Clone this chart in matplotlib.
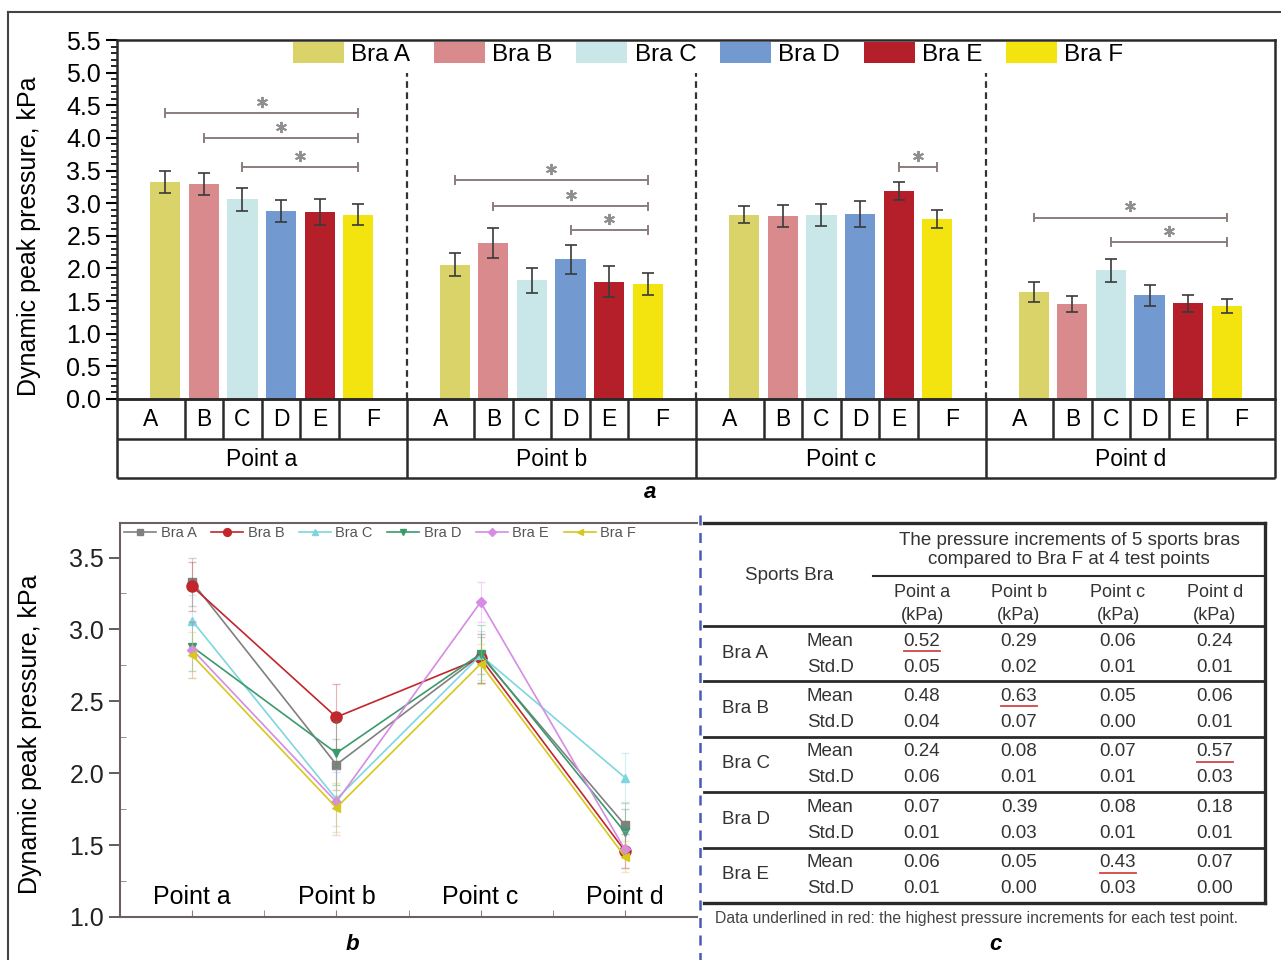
import numpy as np
import matplotlib
matplotlib.use('Agg')
import matplotlib.pyplot as plt

plt.rcParams['font.family'] = ['Liberation Sans', 'DejaVu Sans']

# ---- data ----
points = ['Point a', 'Point b', 'Point c', 'Point d']
bras = ['Bra A', 'Bra B', 'Bra C', 'Bra D', 'Bra E', 'Bra F']
letters = ['A', 'B', 'C', 'D', 'E', 'F']

# dynamic peak pressure (kPa) at points a..d
bra_a_mean = [3.33, 2.06, 2.82, 1.64]
bra_b_mean = [3.30, 2.39, 2.80, 1.46]
bra_c_mean = [3.06, 1.82, 2.82, 1.97]
bra_d_mean = [2.88, 2.14, 2.83, 1.59]
bra_e_mean = [2.86, 1.80, 3.19, 1.47]
bra_f_mean = [2.82, 1.76, 2.76, 1.42]

bra_a_sd = [0.17, 0.18, 0.13, 0.15]
bra_b_sd = [0.17, 0.23, 0.17, 0.12]
bra_c_sd = [0.18, 0.19, 0.17, 0.17]
bra_d_sd = [0.17, 0.22, 0.20, 0.16]
bra_e_sd = [0.20, 0.23, 0.14, 0.13]
bra_f_sd = [0.16, 0.17, 0.14, 0.11]

# significance brackets: (point, from bra, to bra, height in kPa)
sig_pairs = [(0, 0, 5, 4.38), (0, 1, 5, 4.00), (0, 2, 5, 3.56),
             (1, 0, 5, 3.36), (1, 1, 5, 2.95), (1, 3, 5, 2.59),
             (2, 4, 5, 3.56),
             (3, 0, 5, 2.78), (3, 2, 5, 2.40)]

# table c: increments compared to Bra F
inc_bras = ['Bra A', 'Bra B', 'Bra C', 'Bra D', 'Bra E']
inc_mean_a = [0.52, 0.29, 0.06, 0.24]
inc_mean_b = [0.48, 0.63, 0.05, 0.06]
inc_mean_c = [0.24, 0.08, 0.07, 0.57]
inc_mean_d = [0.07, 0.39, 0.08, 0.18]
inc_mean_e = [0.06, 0.05, 0.43, 0.07]
inc_sd_a = [0.05, 0.02, 0.01, 0.01]
inc_sd_b = [0.04, 0.07, 0.00, 0.01]
inc_sd_c = [0.06, 0.01, 0.01, 0.03]
inc_sd_d = [0.01, 0.03, 0.01, 0.01]
inc_sd_e = [0.01, 0.00, 0.03, 0.00]

means = np.array([bra_a_mean, bra_b_mean, bra_c_mean, bra_d_mean, bra_e_mean, bra_f_mean])
sds = np.array([bra_a_sd, bra_b_sd, bra_c_sd, bra_d_sd, bra_e_sd, bra_f_sd])
inc_means = np.array([inc_mean_a, inc_mean_b, inc_mean_c, inc_mean_d, inc_mean_e])
inc_sds = np.array([inc_sd_a, inc_sd_b, inc_sd_c, inc_sd_d, inc_sd_e])

bar_colors = ['#d9d36a', '#d98a8c', '#c9e7e9', '#7299d0', '#b51f2a', '#f3e30e']
line_colors = ['#808080', '#c0262c', '#7fd6de', '#3b9a6b', '#d58ce2', '#d6c81c']
line_markers = ['s', 'o', '^', 'v', 'D', '<']

W, H = 1281, 960


def box(l, t, r, b):
    return [l / W, 1 - b / H, (r - l) / W, (b - t) / H]


fig = plt.figure(figsize=(12.81, 9.6), dpi=100)

# ---- panel a: bars ----
group_w = 7.5
ax = fig.add_axes(box(117, 40, 1275, 399))
for i in range(6):
    xs = np.arange(4) * group_w + 1.25 + i
    ax.bar(xs, means[i], 0.78, yerr=sds[i], color=bar_colors[i], label=bras[i],
           capsize=4.5, error_kw=dict(ecolor='#3a3a3a', elinewidth=1.2, capthick=1.2))

ax.set_xlim(0, 4 * group_w)
ax.set_ylim(0, 5.5)
ax.set_yticks(np.arange(0, 5.51, 0.5))
ax.set_yticks(np.arange(0, 5.51, 0.1), minor=True)
ax.set_xticks([])
ax.tick_params(axis='y', which='major', length=8, width=1.5, labelsize=18, direction='out')
ax.tick_params(axis='y', which='minor', length=4, width=1.2, direction='out')
for s in ax.spines.values():
    s.set_linewidth(1.8)
    s.set_color('#2a2a2a')
ax.set_ylabel('Dynamic peak pressure, kPa', fontsize=18)
ax.yaxis.set_label_coords(-0.066, 0.454)

ax.vlines(np.arange(1, 4) * group_w, 0, 5.0, colors='#333333', linestyles=(0, (3, 2)), lw=1.6)

for p, i0, i1, lvl in sig_pairs:
    x0 = p * group_w + 1.25 + i0
    x1 = p * group_w + 1.25 + i1
    ax.plot([x0, x1], [lvl, lvl], color='#8c7d7d', lw=1.4)
    ax.plot([x0, x0], [lvl - 0.06, lvl + 0.06], color='#8c7d7d', lw=1.4)
    ax.plot([x1, x1], [lvl - 0.06, lvl + 0.06], color='#8c7d7d', lw=1.4)
    ax.plot((x0 + x1) / 2, lvl + 0.17, marker=(6, 2, 0), ms=8, mew=1.4, color='#8f8f8f')

ax.legend(ncol=6, loc='upper left', bbox_to_anchor=(0.152, 0.995), fontsize=17.5,
          frameon=False, handlelength=2.1, handleheight=0.95, handletextpad=0.3,
          columnspacing=0.97, borderpad=0, borderaxespad=0)

# category band under the bars
axc = fig.add_axes(box(117, 399, 1275, 478))
axc.set_xlim(0, 4 * group_w)
axc.set_ylim(2, 0)
axc.axis('off')
axc.hlines([0, 1, 2], 0, 4 * group_w, colors='#2a2a2a', lw=1.8, clip_on=False)
axc.vlines(np.arange(5) * group_w, 0, 2, colors='#2a2a2a', lw=1.8, clip_on=False)
for g in range(4):
    edges = g * group_w + np.array([0, 1.75, 2.75, 3.75, 4.75, 5.75, group_w])
    axc.vlines(edges[1:-1], 0, 1, colors='#2a2a2a', lw=1.8)
    for i in range(6):
        axc.text((edges[i] + edges[i + 1]) / 2, 0.52, letters[i], ha='center', va='center', fontsize=16.5)
    axc.text(g * group_w + group_w / 2, 1.52, points[g], ha='center', va='center', fontsize=16.5)

# ---- panel b: lines ----
axl = fig.add_axes(box(120, 523, 697, 917))
xp = np.arange(1, 5)
for i in range(6):
    axl.errorbar(xp, means[i], yerr=sds[i], fmt='none', ecolor=line_colors[i],
                 elinewidth=0.8, capsize=3, alpha=0.35)
    axl.plot(xp, means[i], color=line_colors[i], lw=1.2, marker=line_markers[i],
             ms=8 if i == 1 else 5.5, label=bras[i])
axl.set_xlim(0.5, 4.5)
axl.set_ylim(1.0, 3.74)
axl.set_yticks(np.arange(1.0, 3.51, 0.5))
axl.set_yticks(np.arange(1.25, 3.6, 0.5), minor=True)
axl.set_xticks(xp)
axl.set_xticklabels([])
axl.set_xticks([1.5, 2.5, 3.5], minor=True)
axl.tick_params(axis='y', which='major', length=8, width=1.3, labelsize=18, direction='out',
                colors='#5a4c4c', labelcolor='#222222')
axl.tick_params(axis='y', which='minor', length=4, direction='in', colors='#8a7c7c')
axl.tick_params(axis='x', which='both', length=5, direction='in', colors='#8a7c7c')
for s in ['left', 'bottom', 'top']:
    axl.spines[s].set_color('#6e6060')
    axl.spines[s].set_linewidth(1.5)
axl.spines['right'].set_visible(False)
for k, name in enumerate(points):
    axl.text(xp[k], 1.14, name, ha='center', va='center', fontsize=18)
axl.set_ylabel('Dynamic peak pressure, kPa', fontsize=18)
axl.yaxis.set_label_coords(-0.135, 0.464)
leg = axl.legend(ncol=6, loc='upper left', bbox_to_anchor=(0.005, 0.995), fontsize=10.5,
                 frameon=False, handlelength=2.2, handletextpad=0.3, columnspacing=1.0,
                 borderpad=0.1, borderaxespad=0, markerscale=0.7)
for t in leg.get_texts():
    t.set_color('#555555')

# ---- overlay: frame, separator, captions, table c ----
ov = fig.add_axes([0, 0, 1, 1])
ov.set_xlim(0, W)
ov.set_ylim(H, 0)
ov.axis('off')
ov.patch.set_alpha(0)
ov.plot([8, W], [12, 12], color='#444444', lw=1.5)
ov.plot([8, 8], [12, H], color='#444444', lw=1.5)
ov.plot([700, 700], [515, 960], color='#4a5ab8', lw=1.8, ls=(0, (4, 3)))

cap = dict(fontsize=16, fontweight='bold', fontstyle='italic', ha='center', va='center')
ov.text(650, 493, 'a', **cap)
ov.text(352, 945, 'b', **cap)
ov.text(995, 945, 'c', **cap)

tl, tr = 704, 1265
tc = '#2a2a2a'
ov.plot([tl, tr], [523, 523], color=tc, lw=2.4)
ov.plot([873, tr], [576, 576], color=tc, lw=1.5)
ov.plot([tl, tr], [626, 626], color=tc, lw=2.0)
ov.plot([tr, tr], [523, 903], color=tc, lw=2.4)
block_h = 55.4
for b in range(1, 5):
    y = 626 + b * block_h
    ov.plot([tl, tr], [y, y], color=tc, lw=2.0)
ov.plot([tl, tr], [903, 903], color=tc, lw=2.4)

txt = '#333333'
fs = 13.5
ov.text(789, 575, 'Sports Bra', ha='center', va='center', fontsize=fs, color=txt)
ov.text(1069, 550, 'The pressure increments of 5 sports bras\ncompared to Bra F at 4 test points',
        ha='center', va='center', fontsize=fs, color=txt, linespacing=1.15)
col_x = [922, 1019, 1118, 1215]
for k, name in enumerate(points):
    ov.text(col_x[k], 604, name + '\n(kPa)', ha='center', va='center', fontsize=fs - 0.5,
            color=txt, linespacing=1.4)

best = inc_means.argmax(axis=0)
for r, name in enumerate(inc_bras):
    y0 = 626 + r * block_h
    ov.text(722, y0 + 27, name, ha='left', va='center', fontsize=fs, color=txt)
    ov.text(807, y0 + 15, 'Mean', ha='left', va='center', fontsize=fs, color=txt)
    ov.text(807, y0 + 41, 'Std.D', ha='left', va='center', fontsize=fs, color=txt)
    for k in range(4):
        ov.text(col_x[k], y0 + 15, f'{inc_means[r, k]:.2f}', ha='center', va='center', fontsize=fs, color=txt)
        ov.text(col_x[k], y0 + 41, f'{inc_sds[r, k]:.2f}', ha='center', va='center', fontsize=fs, color=txt)
        if best[k] == r:
            ov.plot([col_x[k] - 18, col_x[k] + 18], [y0 + 25, y0 + 25], color='#d24545', lw=1.3)

ov.text(715, 919, 'Data underlined in red: the highest pressure increments for each test point.',
        ha='left', va='center', fontsize=11.3, color='#444444')

fig.savefig('out.png', dpi=100)
